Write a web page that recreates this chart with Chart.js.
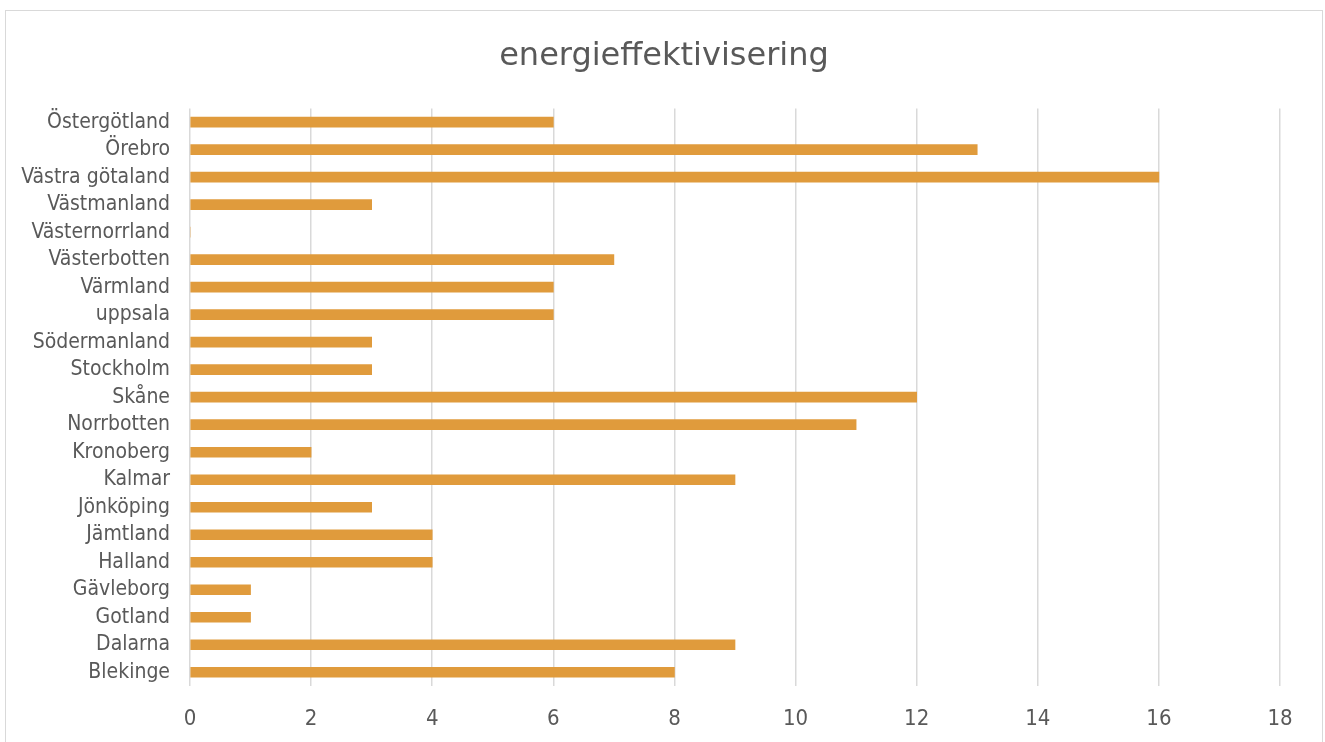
<!DOCTYPE html>
<html>
<head>
<meta charset="utf-8">
<script src="https://cdn.jsdelivr.net/npm/chart.js@4/dist/chart.umd.min.js"></script>
<style>
  html, body { margin: 0; padding: 0; background: #fff; overflow: hidden; }
  #frame {
    position: absolute; left: 5px; top: 10px;
    width: 1316px; height: 740px;
    border: 1px solid #d9d9d9; background: #fff;
  }
  canvas { display: block; }
</style>
</head>
<body>
<div id="frame"><canvas id="c" width="1316" height="731"></canvas></div>
<script>
const categories = [
  'Östergötland', 'Örebro', 'Västra götaland', 'Västmanland', 'Västernorrland',
  'Västerbotten', 'Värmland', 'uppsala', 'Södermanland', 'Stockholm', 'Skåne',
  'Norrbotten', 'Kronoberg', 'Kalmar', 'Jönköping', 'Jämtland', 'Halland',
  'Gävleborg', 'Gotland', 'Dalarna', 'Blekinge'
];
const values = [6, 13, 16, 3, 0, 7, 6, 6, 3, 3, 12, 11, 2, 9, 3, 4, 4, 1, 1, 9, 8];
const xMin = 0, xMax = 18, xStep = 2;
const titleText = 'energieffektivisering';

const FONT = '"DejaVu Sans Condensed", "DejaVu Sans", sans-serif';
const TITLE_FONT = '"DejaVu Sans", sans-serif';
const TEXT = '#595959';

new Chart(document.getElementById('c'), {
  type: 'bar',
  data: {
    labels: categories,
    datasets: [{
      data: values,
      backgroundColor: '#E09B3C',
      borderWidth: 0,
      barThickness: 10
    }]
  },
  options: {
    indexAxis: 'y',
    responsive: false,
    animation: false,
    layout: { padding: 0 },
    plugins: {
      legend: { display: false },
      tooltip: { enabled: false },
      title: {
        display: true,
        text: titleText,
        color: TEXT,
        font: { family: TITLE_FONT, size: 32, weight: 'normal', lineHeight: 1.2 },
        padding: { top: 26, bottom: 33 }
      }
    },
    scales: {
      x: {
        min: xMin, max: xMax,
        ticks: { stepSize: xStep, color: TEXT, padding: 20,
                 font: { family: FONT, size: 22 } },
        grid: { color: '#d9d9d9', lineWidth: 1.5, drawTicks: false },
        border: { display: false },
        afterFit(scale) { scale.height = 56; }
      },
      y: {
        ticks: { color: TEXT, padding: 20, autoSkip: false,
                 font: { family: FONT, size: 21 } },
        grid: { display: false, drawTicks: false },
        border: { display: false },
        afterFit(scale) { scale.width = 184; }
      },
      // empty right-hand margin so the title stays centred on the whole frame
      yMargin: {
        type: 'category',
        position: 'right',
        ticks: { display: false },
        grid: { display: false, drawTicks: false },
        border: { display: false },
        afterFit(scale) { scale.width = 42; }
      }
    }
  }
});
</script>
</body>
</html>
